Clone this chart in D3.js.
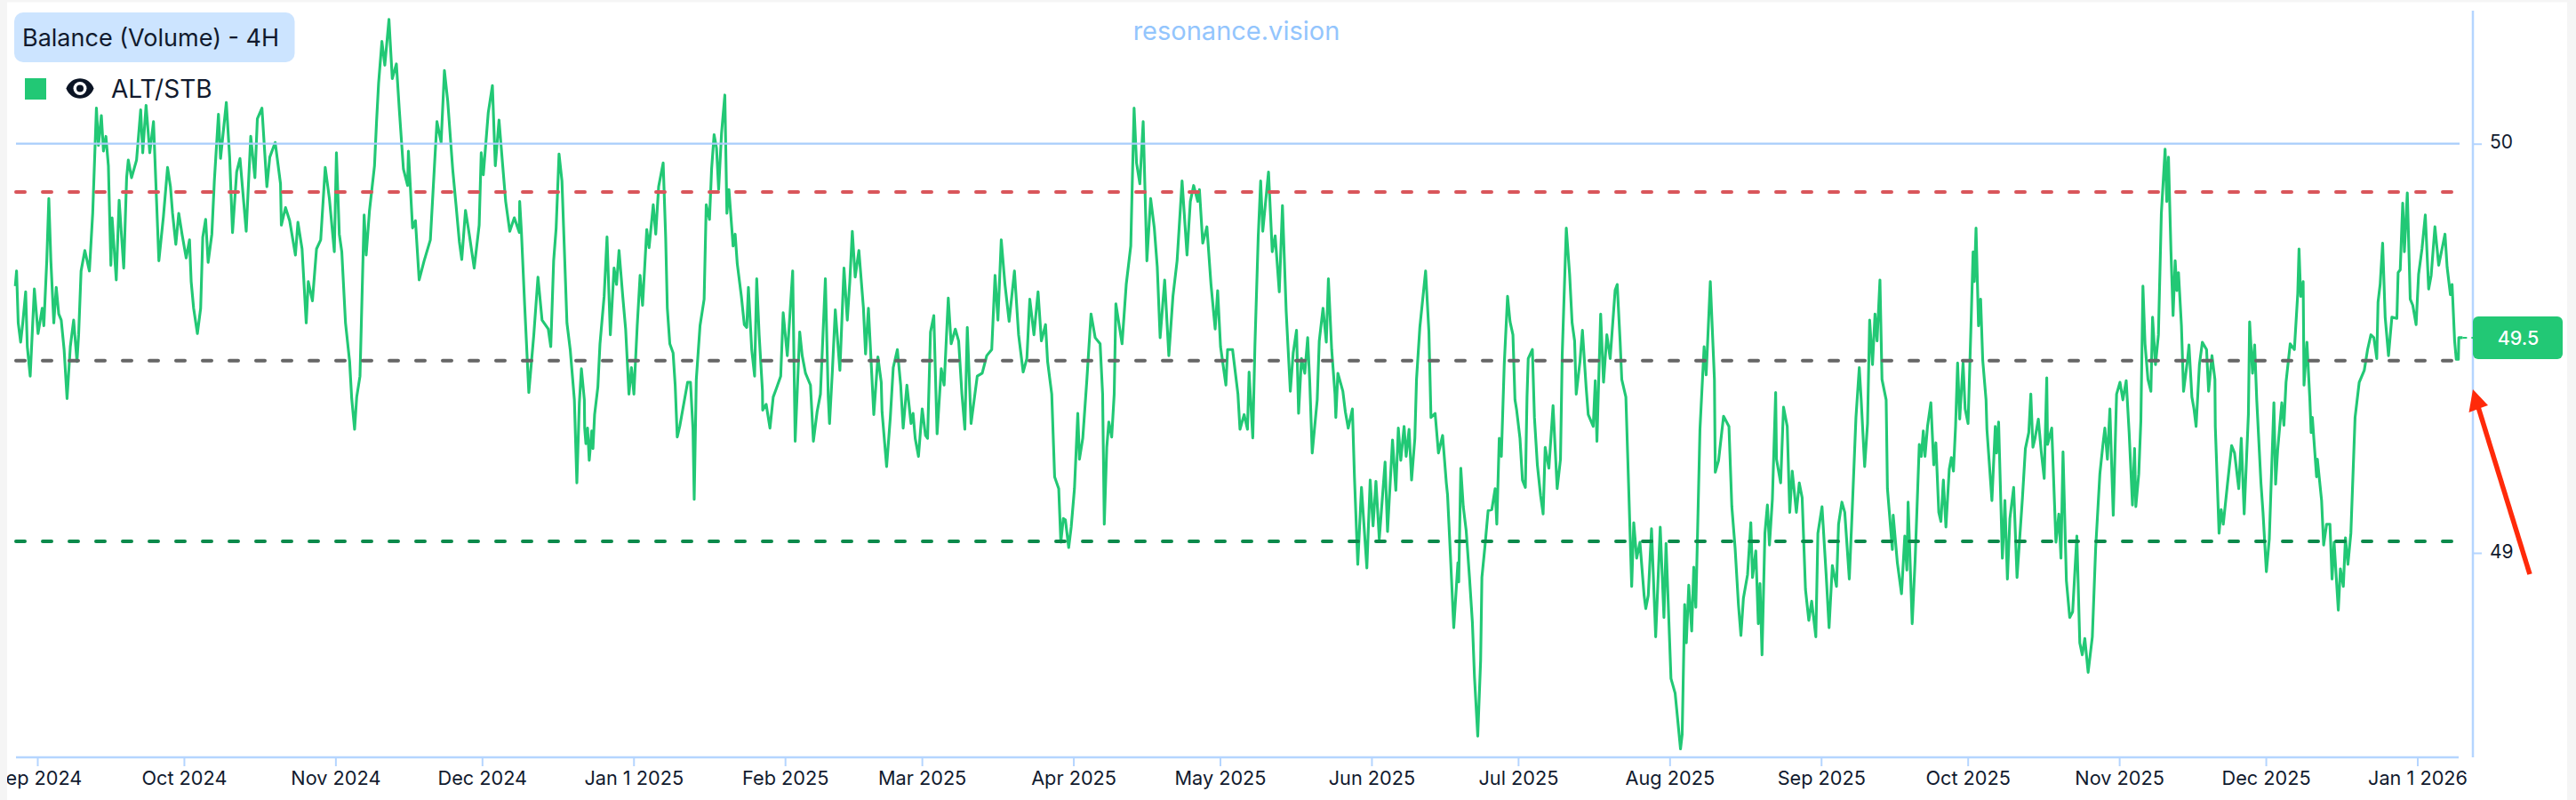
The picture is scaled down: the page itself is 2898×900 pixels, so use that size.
<!DOCTYPE html>
<html>
<head>
<meta charset="utf-8">
<script src="https://cdn.jsdelivr.net/npm/d3@7"></script>
<style>
html,body{margin:0;padding:0;background:#fff;overflow:hidden}
svg{display:block}
text{font-family:Inter,"Noto Sans",sans-serif}
</style>
</head>
<body>
<svg id="chart" width="2898" height="900"></svg>
<script>
const chartTitle = "Balance (Volume) - 4H";
const seriesName = "ALT/STB";
const watermark = "resonance.vision";
const currentLabel = "49.5";
const currentValue = 49.526;
const gridValue = 50;
const upperBand = 49.882;
const middleBand = 49.47;
const lowerBand = 49.028;
const yTicks = [49, 50];
const xTickDates = ["2024-09-01","2024-10-01","2024-11-01","2024-12-01","2025-01-01","2025-02-01","2025-03-01","2025-04-01","2025-05-01","2025-06-01","2025-07-01","2025-08-01","2025-09-01","2025-10-01","2025-11-01","2025-12-01","2026-01-01"];
const xTickLabels = ["Sep 2024","Oct 2024","Nov 2024","Dec 2024","Jan 1 2025","Feb 2025","Mar 2025","Apr 2025","May 2025","Jun 2025","Jul 2025","Aug 2025","Sep 2025","Oct 2025","Nov 2025","Dec 2025","Jan 1 2026"];

// Days since 2024-09-01 and balance readings
const daysA = [-4.51,-4.25,-3.91,-3.41,-2.98,-2.39,-2.05,-1.46,-0.61,0.15,1.0,1.33,1.93,2.35,2.77,3.37,3.87,4.38,4.89,5.48,6.08,6.75,7.43,8.11,8.45,8.95,9.72,10.65,11.33,12.09,12.51,13.1,13.53,14.03,14.54,15.05,15.3,16.15,16.74,17.68,18.27,18.61,19.28,20.3,21.15,21.57,22.25,23.01,23.77,24.87,25.8,26.65,27.24,27.67,28.34,28.94,29.61,30.46,31.14,31.48,31.98,32.75,33.42,33.85,34.44,34.95,35.71,36.22,37.06,37.49,38.67,39.35,39.94,40.79,41.47,42.74,43.67,44.52,45.02,45.96,46.97,47.56,48.67,49.76,49.93,50.78,51.63,52.81,53.32,54.17,55.02,55.44,56.29,57.13,57.98,58.91,59.76,60.77,61.2,61.79,62.3,63.06,63.9,64.33,64.92,65.35,66.02,66.87,67.29,67.97,68.99,69.41,69.83,70.51,71.1,71.95,72.63,73.47,74.07,74.91,75.76,75.93,76.78,77.37,78.13,79.15,80.42,81.26,81.77,82.62,83.3,83.97,84.99,85.67,86.35,86.85,87.61,88.38,89.39,90.41,90.83,91.26,92.27,93.12,93.71,94.47,95.23,95.83,96.67,97.6,98.62,98.7,99.05,99.72,100.57,101.59,102.44,103.28,104.55,105.06,105.65,106.16,106.75,107.35,108.37,109.04,109.89,110.4,110.91,111.33,111.93,112.0,112.25,112.59,112.93,113.44,113.69,114.03,114.7,115.13,115.98,116.57,117.25,118.01,118.52,119.03,119.79,120.38,121.06,121.57,122.07,122.75,123.34,123.85,124.7];
const valuesA = [49.652,49.689,49.562,49.515,49.562,49.638,49.504,49.432,49.645,49.536,49.598,49.555,49.714,49.866,49.714,49.562,49.649,49.584,49.569,49.497,49.377,49.504,49.569,49.468,49.533,49.689,49.739,49.689,49.830,50.087,49.996,50.069,49.982,50.018,49.946,49.703,49.819,49.667,49.862,49.696,49.917,49.960,49.917,49.960,50.083,49.978,50.094,49.978,50.054,49.714,49.822,49.942,49.895,49.830,49.754,49.830,49.779,49.721,49.765,49.663,49.598,49.536,49.598,49.772,49.815,49.710,49.779,49.909,50.072,49.964,50.101,49.967,49.783,49.931,49.964,49.786,50.018,49.917,50.061,50.087,49.895,49.967,50.003,49.902,49.801,49.844,49.812,49.728,49.808,49.743,49.562,49.663,49.616,49.743,49.765,49.942,49.866,49.736,49.978,49.779,49.736,49.562,49.468,49.377,49.302,49.381,49.432,49.826,49.728,49.837,49.946,50.054,50.148,50.250,50.192,50.304,50.159,50.195,50.083,49.938,49.898,49.982,49.794,49.812,49.667,49.714,49.765,49.946,50.054,50.003,50.179,50.105,49.938,49.851,49.761,49.717,49.837,49.779,49.696,49.801,49.978,49.924,50.076,50.142,49.946,50.058,49.946,49.859,49.786,49.819,49.783,49.859,49.786,49.605,49.392,49.533,49.674,49.569,49.547,49.504,49.714,49.794,49.975,49.909,49.562,49.497,49.374,49.171,49.367,49.450,49.374,49.305,49.267,49.305,49.226,49.298,49.255,49.338,49.406,49.511,49.627,49.772,49.533,49.696,49.656,49.739,49.627,49.547,49.388,49.453,49.388,49.555,49.678,49.605,49.790];

const daysB = [125.18,126.03,126.54,127.13,128.06,128.57,128.91,129.42,130.09,130.52,130.94,131.45,132.21,133.06,133.65,134.16,134.41,134.84,135.6,136.44,136.87,137.54,137.97,138.48,138.98,139.41,140.0,140.68,141.1,141.52,142.37,142.79,143.22,144.06,144.66,145.16,145.5,146.18,146.77,147.2,147.7,148.38,148.42,149.14,149.91,150.58,151.26,152.11,152.62,153.46,154.56,155.07,156.0,156.51,157.19,158.2,158.8,159.56,160.24,161.25,161.84,162.1,162.69,163.28,164.22,165.06,165.74,166.25,166.76,167.35,168.11,169.04,169.47,170.06,170.73,171.16,172.0,172.68,172.85,173.78,174.54,175.14,175.98,176.66,177.17,177.93,178.78,179.2,179.63,180.3,181.07,181.74,182.16,182.76,183.44,184.11,184.96,185.55,186.4,186.99,187.84,188.52,189.19,189.79,190.29,191.06,192.33,193.34,194.27,195.29,195.97,196.56,197.24,198.0,198.85,199.94,200.79,201.72,202.48,203.08,203.93,204.77,205.45,206.3,206.72,207.57,208.16,209.0,209.43,209.94,210.36,211.04,211.55,212.22,212.9,213.24,213.92,214.76,215.61,216.46,217.47,217.98,218.32,218.83,219.25,219.84,220.35,220.69,221.96,222.81,223.74,224.42,224.92,225.6,226.28,227.04,227.81,228.56,229.16,229.75,230.68,231.53,232.37,233.22,234.24,235.25,235.93,236.61,237.45,237.79,238.47,239.32,240.16,241.01,241.52,242.11,243.21,243.55,244.57,245.67,246.09,246.94,247.62,247.95,248.71,249.14,249.82,250.32,250.75,251.34,251.93,252.69,253.29,254.13];
const valuesB = [49.746,49.851,49.779,49.895,49.953,49.772,49.598,49.511,49.489,49.410,49.283,49.309,49.360,49.417,49.417,49.302,49.131,49.424,49.555,49.620,49.851,49.815,49.938,50.022,49.989,49.888,50.025,50.119,49.830,49.888,49.750,49.779,49.707,49.627,49.558,49.551,49.649,49.497,49.432,49.670,49.533,49.395,49.349,49.363,49.305,49.381,49.403,49.432,49.587,49.482,49.689,49.273,49.540,49.482,49.439,49.410,49.273,49.345,49.388,49.670,49.381,49.316,49.446,49.594,49.446,49.696,49.569,49.663,49.786,49.674,49.739,49.598,49.486,49.598,49.439,49.338,49.479,49.417,49.345,49.211,49.331,49.453,49.497,49.410,49.305,49.410,49.316,49.341,49.280,49.236,49.352,49.287,49.280,49.540,49.580,49.291,49.450,49.410,49.623,49.511,49.547,49.518,49.388,49.302,49.551,49.316,49.432,49.439,49.482,49.497,49.678,49.569,49.765,49.656,49.566,49.689,49.533,49.442,49.475,49.620,49.533,49.638,49.518,49.558,49.468,49.388,49.186,49.157,49.026,49.084,49.081,49.013,49.063,49.157,49.341,49.229,49.280,49.424,49.584,49.526,49.511,49.388,49.070,49.258,49.320,49.283,49.388,49.609,49.511,49.656,49.750,50.087,49.953,49.902,50.054,49.714,49.866,49.794,49.699,49.526,49.667,49.482,49.627,49.714,49.909,49.728,49.859,49.898,49.859,49.888,49.757,49.797,49.656,49.547,49.641,49.504,49.410,49.497,49.497,49.388,49.302,49.338,49.302,49.442,49.281,49.504,49.772,49.909,49.786,49.859,49.931,49.736,49.775,49.638];

const daysC = [254.78,255.54,256.39,256.98,257.66,258.08,258.67,259.35,259.94,260.37,260.87,261.89,262.31,263.08,263.75,264.18,264.85,265.53,265.7,266.12,267.14,267.65,268.24,269.09,269.51,270.19,270.95,272.05,272.73,273.32,273.91,274.59,275.78,276.28,277.3,277.98,278.49,278.99,279.67,280.09,280.69,281.2,281.87,282.21,282.89,284.07,284.75,285.17,286.02,286.7,287.55,288.31,288.56,289.15,289.83,290.68,290.85,291.27,291.78,292.37,293.05,293.64,294.07,294.74,295.33,295.59,296.18,296.86,297.62,298.3,298.64,299.14,299.57,300.16,300.84,301.35,301.94,302.36,302.7,303.38,303.89,304.48,304.82,305.07,305.92,306.34,306.94,307.61,308.12,308.54,309.3,310.15,310.99,311.67,312.02,312.86,313.54,314.05,314.56,314.89,315.66,316.16,316.93,317.35,318.37,318.79,319.13,319.89,320.48,321.16,321.84,322.85,323.28,323.87,324.21,325.05,325.65,326.24,326.66,327.26,327.93,328.78,329.12,329.63,330.3,331.15,332.08,332.84,333.27,334.28,335.13,336.23,336.57,337.08,337.42,337.92,338.52,338.94,339.36,340.21,341.06,341.48,342.33,343.17,343.34,344.02,345.04,346.14,346.73,347.4,348.08,348.59,349.1,349.95,350.62,350.96,351.64,352.15,352.49,352.91,353.5,354.01,354.43,355.03,355.7,355.87,356.72,357.31,358.07,358.58,359.09,359.94,360.53,361.12,361.8,362.48,363.07,363.92,364.34,365.19,366.03,366.63,367.3,368.15,368.57,369.25,369.84,370.77,371.37,372.13,372.81,373.2,373.91,374.5,374.93,375.52,376.03,376.45,377.04,377.46,378.31,378.57,379.58,379.75,380.6,381.45,382.12,382.55,382.8,383.64,384.24,385.09,385.51];
const valuesC = [49.849,49.591,49.395,49.489,49.544,49.341,49.475,49.439,49.526,49.417,49.244,49.374,49.518,49.598,49.515,49.670,49.497,49.388,49.331,49.439,49.395,49.345,49.305,49.352,49.186,48.972,49.160,48.963,49.178,49.066,49.175,49.034,49.222,49.052,49.276,49.153,49.305,49.226,49.309,49.236,49.302,49.178,49.280,49.424,49.551,49.689,49.540,49.331,49.341,49.244,49.287,49.171,49.142,48.994,48.817,48.976,48.929,49.207,49.113,49.055,48.940,48.831,48.697,48.552,48.737,48.940,49.012,49.103,49.106,49.157,49.070,49.280,49.236,49.460,49.627,49.565,49.533,49.374,49.349,49.280,49.178,49.160,49.381,49.475,49.497,49.331,49.215,49.139,49.095,49.258,49.207,49.360,49.157,49.229,49.482,49.794,49.681,49.562,49.518,49.388,49.468,49.544,49.403,49.338,49.309,49.421,49.273,49.584,49.417,49.533,49.475,49.642,49.656,49.518,49.424,49.381,49.150,48.918,49.074,48.987,49.026,48.896,48.864,48.896,49.059,48.795,49.063,48.842,49.023,48.693,48.657,48.521,48.556,48.874,48.780,48.921,48.809,48.965,48.867,49.302,49.504,49.435,49.663,49.424,49.197,49.226,49.334,49.309,49.113,49.012,48.874,48.798,48.889,48.947,49.074,48.940,49.005,48.827,48.925,48.751,49.048,49.117,49.019,49.131,49.392,49.229,49.171,49.356,49.309,49.099,49.200,49.099,49.171,49.135,48.911,48.835,48.882,48.795,49.048,49.113,48.947,48.817,48.969,48.918,49.070,49.124,49.099,48.936,49.106,49.331,49.453,49.374,49.211,49.316,49.569,49.460,49.584,49.518,49.667,49.424,49.374,49.157,49.008,49.092,48.976,48.900,49.041,48.958,49.124,48.827,48.983,49.265,49.236];

const daysD = [385.91,386.26,386.77,387.46,388.05,388.48,389.08,389.51,390.02,390.54,391.22,391.65,392.08,392.51,392.93,393.36,394.05,394.47,395.07,395.67,396.1,396.36,396.7,397.21,397.64,398.07,398.75,398.93,399.95,400.64,400.9,401.32,402.09,402.61,403.12,403.63,404.4,405.09,406.2,406.8,407.49,407.91,408.34,408.77,409.45,410.05,410.65,411.17,411.34,412.19,413.05,413.65,414.08,414.5,415.19,415.87,416.47,417.33,417.93,418.44,418.96,419.64,420.5,421.18,422.04,422.64,423.06,423.58,424.09,424.78,425.46,426.15,426.75,427.43,428.03,428.71,429.14,429.4,430.0,430.43,430.85,431.28,431.88,432.48,432.82,433.42,434.02,434.62,435.39,435.73,436.08,436.59,437.02,437.45,437.79,438.13,438.73,439.16,440.01,440.27,440.87,441.3,441.73,442.41,443.01,443.87,444.29,444.98,445.58,445.66,446.43,446.86,447.29,448.15,449.0,449.6,450.46,450.97,451.57,452.43,452.68,453.28,453.71,454.14,455.0,455.42,456.11,456.71,457.65,458.0,458.42,459.27,459.7,460.13,460.99,461.84,462.53,462.79,463.13,463.64,463.81,464.41,465.01,465.27,465.52,466.38,466.55,467.41,467.83,468.43,469.12,469.55,469.97,470.83,471.26,471.86,472.29,472.8,473.4,474.26,475.11,476.14,476.82,477.5,478.1,478.7,478.96,479.39,479.9,480.42,481.1,481.79,482.81,483.07,483.5,484.01,484.35,484.95,485.55,486.07,486.75,487.26,487.95,488.63,489.32,489.83,490.6,491.37,492.05,492.66,493.09,493.77,494.11,494.63,494.97,495.4,495.48,496.25];
const valuesD = [49.298,49.236,49.309,49.367,49.215,49.269,49.099,49.077,49.178,49.063,49.204,49.233,49.200,49.309,49.464,49.327,49.464,49.352,49.316,49.555,49.736,49.663,49.794,49.555,49.620,49.471,49.374,49.302,49.128,49.309,49.244,49.320,48.987,49.128,48.936,49.084,49.160,48.940,49.135,49.255,49.294,49.388,49.258,49.280,49.327,49.247,49.182,49.428,49.265,49.305,49.026,49.095,48.987,49.247,48.932,48.842,48.856,49.041,48.780,48.751,48.791,48.708,48.795,49.012,49.193,49.262,49.305,49.229,49.352,49.092,49.388,49.417,49.374,49.421,49.294,49.117,49.255,49.113,49.193,49.323,49.652,49.511,49.424,49.395,49.576,49.460,49.533,49.830,49.987,49.859,49.967,49.736,49.580,49.714,49.641,49.685,49.555,49.395,49.475,49.508,49.381,49.352,49.309,49.460,49.515,49.497,49.395,49.482,49.424,49.309,49.048,49.106,49.070,49.168,49.262,49.244,49.157,49.280,49.095,49.338,49.565,49.439,49.508,49.374,49.171,49.099,48.954,49.034,49.367,49.168,49.251,49.367,49.312,49.417,49.511,49.497,49.634,49.743,49.627,49.663,49.410,49.515,49.374,49.294,49.331,49.186,49.229,49.128,49.019,49.070,49.070,48.936,49.026,48.860,48.961,48.918,49.037,48.972,49.048,49.331,49.417,49.446,49.497,49.533,49.526,49.475,49.613,49.656,49.757,49.576,49.482,49.576,49.573,49.685,49.692,49.855,49.736,49.880,49.620,49.605,49.558,49.681,49.743,49.826,49.645,49.678,49.797,49.703,49.743,49.779,49.699,49.631,49.656,49.518,49.473,49.473,49.526,49.526];

const svg = d3.select("#chart");
const day0 = Date.UTC(2024, 8, 1);
const toDate = d => new Date(day0 + d * 864e5);
const days = [...daysA, ...daysB, ...daysC, ...daysD];
const values = [...valuesA, ...valuesB, ...valuesC, ...valuesD];
const points = days.map((d, i) => ({date: toDate(d), value: values[i]}));

const x = d3.scaleUtc().domain([new Date(xTickDates[0]), new Date(xTickDates[16])]).range([42, 2719.5]);
const y = d3.scaleLinear().domain([49, 50]).range([622, 161.7]);

const plotLeft = 18, plotRight = 2766, axisX = 2782, axisBottom = 852, axisTop = 12;
const axisColor = "#b5d5ff", textColor = "#111a2e", lineColor = "#22c875";

svg.append("rect").attr("width", 2898).attr("height", 900).attr("fill", "#fff");

// x axis
const xAxis = d3.axisBottom(x)
  .tickValues(xTickDates.map(d => new Date(d)))
  .tickFormat((d, i) => xTickLabels[i])
  .tickSize(10).tickPadding(6);
const gx = svg.append("g").attr("transform", `translate(0,${axisBottom})`).call(xAxis);
gx.select(".domain").remove();
gx.selectAll("line").attr("stroke", axisColor).attr("stroke-width", 2);
gx.selectAll("text").attr("fill", textColor).attr("font-size", 21.7).attr("font-family", "Inter");
svg.append("line").attr("x1", plotLeft).attr("x2", plotRight).attr("y1", axisBottom).attr("y2", axisBottom)
  .attr("stroke", axisColor).attr("stroke-width", 2.5);

// y axis
const yAxis = d3.axisRight(y).tickValues(yTicks).tickFormat(d3.format("d")).tickSize(10).tickPadding(9);
const gy = svg.append("g").attr("transform", `translate(${axisX},0)`).call(yAxis);
gy.select(".domain").remove();
gy.selectAll("line").attr("stroke", axisColor).attr("stroke-width", 2);
gy.selectAll("text").attr("fill", textColor).attr("font-size", 21).attr("font-family", "Inter").attr("dy", "0.25em");
svg.append("line").attr("x1", axisX).attr("x2", axisX).attr("y1", axisTop).attr("y2", axisBottom)
  .attr("stroke", axisColor).attr("stroke-width", 2.5);

// series
svg.append("path").datum(points)
  .attr("fill", "none").attr("stroke", lineColor).attr("stroke-width", 3.1).attr("stroke-linejoin", "round")
  .attr("d", d3.line().x(d => x(d.date)).y(d => y(d.value)));

// current value dashed guide
svg.append("line").attr("x1", x(points[points.length - 1].date)).attr("x2", axisX)
  .attr("y1", y(currentValue)).attr("y2", y(currentValue))
  .attr("stroke", lineColor).attr("stroke-width", 2).attr("stroke-dasharray", "5 5");

// reference lines
svg.append("line").attr("x1", plotLeft).attr("x2", 2767).attr("y1", y(gridValue)).attr("y2", y(gridValue))
  .attr("stroke", "#a8cdfb").attr("stroke-width", 2.2);
[[upperBand, "#d9565b"], [middleBand, "#666666"], [lowerBand, "#0b8a4b"]].forEach(([v, c]) => {
  svg.append("line").attr("x1", 18).attr("x2", 2760).attr("y1", y(v)).attr("y2", y(v))
    .attr("stroke", c).attr("stroke-width", 4).attr("stroke-linecap", "round").attr("stroke-dasharray", "10 20");
});

// page margins
svg.append("rect").attr("x", 0).attr("y", 0).attr("width", 8).attr("height", 900).attr("fill", "#f5f5f5");
svg.append("rect").attr("x", 0).attr("y", 0).attr("width", 2898).attr("height", 2.5).attr("fill", "#f5f5f5");
svg.append("rect").attr("x", 2888).attr("y", 0).attr("width", 10).attr("height", 900).attr("fill", "#f5f5f5");

// current value tag
svg.append("rect").attr("x", 2782).attr("y", 356).attr("width", 101).attr("height", 48).attr("rx", 6).attr("fill", lineColor);
svg.append("text").attr("x", 2833).attr("y", 388).attr("text-anchor", "middle").attr("fill", "#fff")
  .attr("font-size", 21.5).attr("font-weight", 500).text(currentLabel);

// title pill
svg.append("rect").attr("x", 16).attr("y", 14).attr("width", 315.5).attr("height", 56).attr("rx", 10).attr("fill", "#cce4ff");
svg.append("text").attr("x", 25).attr("y", 52).attr("fill", textColor).attr("font-size", 27).text(chartTitle);

// legend
svg.append("rect").attr("x", 28).attr("y", 88).attr("width", 24).attr("height", 24).attr("fill", lineColor);
const eye = svg.append("g").attr("transform", "translate(90,99.5)");
eye.append("path").attr("d", "M-15.5,0 C-10,-15 10,-15 15.5,0 C10,15 -10,15 -15.5,0 Z").attr("fill", "#0b1424");
eye.append("circle").attr("r", 7.5).attr("fill", "#fff");
eye.append("circle").attr("r", 4).attr("fill", "#0b1424");
svg.append("text").attr("x", 125).attr("y", 110).attr("fill", textColor).attr("font-size", 28).text(seriesName);

// watermark
svg.append("text").attr("x", 1391).attr("y", 45).attr("text-anchor", "middle").attr("fill", "#93c5fd")
  .attr("font-size", 29).text(watermark);

// annotation arrow
svg.append("line").attr("x1", 2846).attr("y1", 646).attr("x2", 2788).attr("y2", 458)
  .attr("stroke", "#ff2a0a").attr("stroke-width", 5.5);
svg.append("path").attr("d", "M2782,438 L2799,456 L2777.5,464 Z").attr("fill", "#ff2a0a");
</script>
</body>
</html>
